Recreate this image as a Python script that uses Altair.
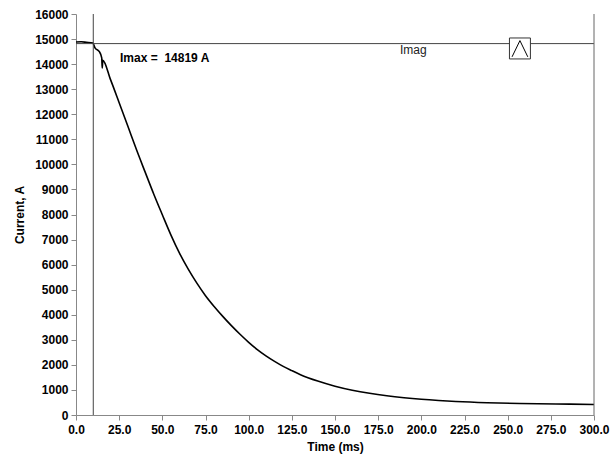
import altair as alt
import pandas as pd

time_ms = [0, 3, 6, 9.8, 11.0, 13.5, 14.9, 15.2, 15.5, 20, 25, 30, 35, 40, 45, 50, 55, 60, 65,
           70, 75, 80, 85, 90, 95, 100, 105, 110, 115, 120, 125, 130, 140, 150, 160, 170,
           180, 190, 200, 210, 220, 238, 257, 286, 300]
current_a = [14880, 14890, 14870, 14840, 14650, 14500, 14250, 13850, 14150, 13380, 12460,
             11530, 10590, 9700, 8820, 7990, 7180, 6450, 5820, 5260, 4760, 4330, 3935, 3565,
             3220, 2900, 2610, 2360, 2140, 1940, 1770, 1610, 1355, 1150, 990, 865, 766, 688,
             626, 578, 540, 491, 458, 432, 418]

cursor_x = [10]
cursor_y = [14819]
imax_label = ["Imax =\u00a0 14819 A"]
imag_label = ["Imag"]

df = pd.DataFrame({"t": time_ms, "i": current_a})

xs = alt.Scale(domain=[0, 300], nice=False)
ys = alt.Scale(domain=[0, 16000], nice=False)

common = dict(grid=False, tickSize=5, domainColor="#888888", tickColor="#888888",
              labelFont="Liberation Sans", labelFontWeight="bold", labelFontSize=12,
              labelColor="black", titleFont="Liberation Sans", titleFontWeight="bold",
              titleFontSize=12, titleColor="black", labelOverlap=False, labelFlush=False,
              labelBound=False)

x_axis = alt.Axis(values=list(range(0, 301, 25)), format=".1f", title="Time (ms)",
                  labelPadding=4, titlePadding=6, **common)
y_axis = alt.Axis(values=list(range(0, 16001, 1000)), format="d", title="Current, A",
                  labelPadding=3, titlePadding=8, **common)


def X(field):
    return alt.X(field, type="quantitative", scale=xs, axis=x_axis)


def Y(field):
    return alt.Y(field, type="quantitative", scale=ys, axis=y_axis)


line = alt.Chart(df).mark_line(color="black", strokeWidth=1.6, interpolate="monotone").encode(
    x=X("t"), y=Y("i"),
)

hline = alt.Chart(pd.DataFrame({"y": cursor_y})).mark_rule(color="#444444", strokeWidth=1).encode(
    y=Y("y")
)
vline = alt.Chart(pd.DataFrame({"x": cursor_x})).mark_rule(color="#444444", strokeWidth=1).encode(
    x=X("x")
)
right_border = alt.Chart(pd.DataFrame({"x": [300]})).mark_rule(color="#666666", strokeWidth=1).encode(
    x=X("x")
)

imax_txt = alt.Chart(pd.DataFrame({"x": [25.5], "y": [14246], "s": imax_label})).mark_text(
    align="left", baseline="middle", font="Liberation Sans", fontWeight="bold", fontSize=12,
    color="black"
).encode(x=X("x"), y=Y("y"), text="s:N")

imag_txt = alt.Chart(pd.DataFrame({"x": [187.6], "y": [14565], "s": imag_label})).mark_text(
    align="left", baseline="middle", font="Liberation Sans", fontSize=12, color="#222222"
).encode(x=X("x"), y=Y("y"), text="s:N")

box = alt.Chart(pd.DataFrame({"x": [257.1], "y": [14625]})).mark_point(
    shape="square", size=440, filled=True, fill="white", stroke="#333333", strokeWidth=1,
    opacity=1
).encode(x=X("x"), y=Y("y"))

chevron = alt.Chart(pd.DataFrame({"x": [257.1], "y": [14625]})).mark_point(
    shape="M -0.75 0.8 L 0 -0.75 L 0.75 0.8", size=440, filled=False, color="black",
    strokeWidth=1, opacity=1
).encode(x=X("x"), y=Y("y"))

chart = alt.layer(line, hline, vline, right_border, imax_txt, imag_txt, box, chevron).properties(
    width=518, height=401,
    autosize=alt.AutoSizeParams(type="none"),
    padding={"left": 76, "top": 14, "right": 17, "bottom": 43},
    background="white",
).configure_view(stroke=None)

chart.save("out.html", embed_options={"renderer": "svg", "actions": False})
